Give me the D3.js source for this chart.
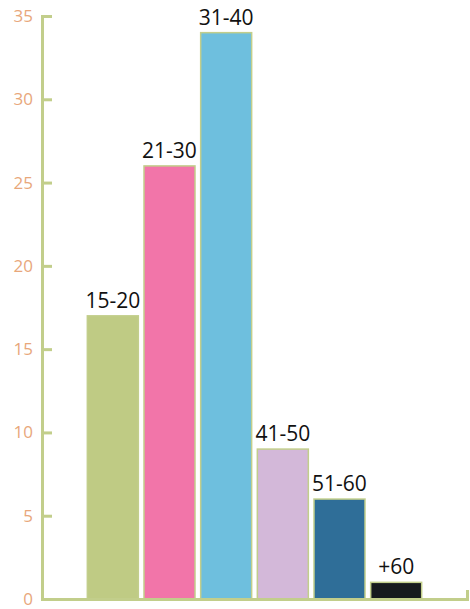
<!DOCTYPE html>
<html>
<head>
<meta charset="utf-8">
<script src="https://cdn.jsdelivr.net/npm/d3@7"></script>
<style>
	body { margin: 0; background: #fff; }
</style>
</head>
<body>
<div id="chart"></div>
<script>
// age groups and counts
var ageGroups = ["15-20", "21-30", "31-40", "41-50", "51-60", "+60"];
var counts = [17, 26, 34, 9, 6, 1];
var barColors = ["#bfcb84", "#f275a9", "#6ebfde", "#d3b8d9", "#2f6e98", "#16191e"];
var yTicks = [0, 5, 10, 15, 20, 25, 30, 35];

var w = 470,
	h = 609,
	axisColor = "#c2ce8b",
	tickColor = "#e8a77b";

var svg = d3.select("#chart")
	.append("svg")
	.attr("width", w)
	.attr("height", h);

var x = d3.scaleBand()
	.domain(ageGroups)
	.range([42, 467])
	.paddingInner(0.1)
	.paddingOuter(0.8);

var y = d3.scaleLinear()
	.domain([0, 35])
	.range([599, 16]);

// bars
svg.selectAll("rect.bar")
	.data(counts)
	.enter().append("rect")
	.attr("class", "bar")
	.attr("x", function(d, i) { return x(ageGroups[i]); })
	.attr("y", function(d) { return y(d); })
	.attr("width", x.bandwidth())
	.attr("height", function(d) { return y(0) - y(d); })
	.attr("fill", function(d, i) { return barColors[i]; })
	.attr("stroke", axisColor)
	.attr("stroke-width", 1.5);

// bar labels
svg.selectAll("text.lbl")
	.data(counts)
	.enter().append("text")
	.attr("class", "lbl")
	.attr("x", function(d, i) { return x(ageGroups[i]) + x.bandwidth() / 2; })
	.attr("y", function(d) { return y(d) - 8; })
	.attr("text-anchor", "middle")
	.attr("font-family", "'Open Sans', sans-serif")
	.attr("font-size", "21px")
	.attr("fill", "#111")
	.text(function(d, i) { return ageGroups[i]; });

// y axis, ticks pointing right
var yAxis = svg.append("g")
	.attr("transform", "translate(42,0)")
	.call(d3.axisLeft(y).tickValues(yTicks).tickSize(-10).tickPadding(9));

// x axis, only the line with a small upward end tick
var xAxis = svg.append("g")
	.attr("transform", "translate(0,599)")
	.call(d3.axisBottom(x).tickValues([]).tickSizeOuter(-9));

svg.selectAll(".domain, .tick line")
	.attr("stroke", axisColor)
	.attr("stroke-width", 3);

yAxis.selectAll(".tick text")
	.attr("fill", tickColor)
	.attr("font-family", "'Open Sans', sans-serif")
	.attr("font-size", "17px");
</script>
</body>
</html>
